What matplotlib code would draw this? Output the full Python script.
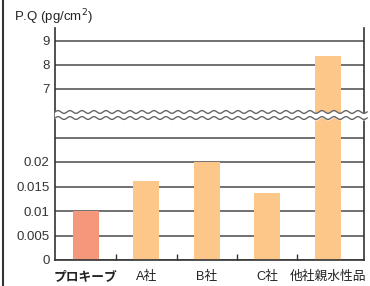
import numpy as np
import matplotlib
matplotlib.use("Agg")
import matplotlib.pyplot as plt
from matplotlib.lines import Line2D

plt.rcParams['font.family'] = ['Liberation Sans', 'Noto Sans CJK JP', 'DejaVu Sans']

categories = ['プロキーブ', 'A社', 'B社', 'C社', '他社親水性品']
values = [0.0100, 0.0161, 0.0200, 0.0137, 8.38]
bar_colors = ['#F5977A', '#FDC78A', '#FDC78A', '#FDC78A', '#FDC78A']
ytick_vals = [0, 0.005, 0.01, 0.015, 0.02, 0.025, 7, 8, 9]
ytick_labels = ['0', '0.005', '0.01', '0.015', '0.02', '', '7', '8', '9']

# piecewise scale for the broken axis
yp = [-1, 0, 0.029, 6, 20]
fp = [-200, 0, 5.8, 6.0, 6.0 + 14 * 0.98]


def fwd(y):
    return np.interp(y, yp, fp)


def inv(f):
    return np.interp(f, fp, yp)


fig = plt.figure(figsize=(3.7, 2.86), dpi=100)
ax = fig.add_axes([55 / 370, 1 - 260 / 286, 309 / 370, 232 / 286])
ax.set_yscale('function', functions=(fwd, inv))

x = np.arange(len(categories))
ax.bar(x, values, width=0.43, color=bar_colors, zorder=2)

ax.set_xlim(-0.51, 4.6)
ax.set_ylim(0, inv(232 / 24.5))

ax.set_yticks(ytick_vals)
ax.set_yticklabels(ytick_labels)
ax.yaxis.grid(True, color='#4a4a4a', linewidth=1.1)
ax.set_axisbelow(True)
ax.tick_params(axis='y', length=0, pad=4, labelsize=9.5, labelcolor='#333333')

ax.set_xticks(x)
ax.set_xticklabels(categories)
ax.set_xticks(x[:-1] + 0.5, minor=True)
ax.tick_params(axis='x', which='major', length=0, pad=8, labelsize=9.2, labelcolor='#222222')
ax.tick_params(axis='x', which='minor', direction='in', length=4, width=1, color='#333333')
ax.get_xticklabels()[0].set_fontweight('bold')

for s in ['left', 'right', 'bottom']:
    ax.spines[s].set_color('#333333')
    ax.spines[s].set_linewidth(1.2)
ax.spines['top'].set_visible(False)

# wavy break marks
t = np.linspace(0, 1.01, 800)
w = 0.006 * np.sin(2 * np.pi * t * 309 / 12)
y1 = 0.638 + w
y2 = 0.612 + w
ax.fill_between(t, y2, y1, color='white', transform=ax.transAxes, zorder=5, clip_on=False)
ax.plot(t, y1, color='#666666', lw=1, transform=ax.transAxes, zorder=6, clip_on=False)
ax.plot(t, y2, color='#666666', lw=1, transform=ax.transAxes, zorder=6, clip_on=False)

fig.text(14 / 370, 1 - 17 / 286, 'P.Q (pg/cm$^{2}$)', fontsize=9.5, color='#222222', va='center')
fig.add_artist(Line2D([2.5 / 370, 2.5 / 370], [0, 1], color='#333333', lw=1.5))

fig.savefig('out.png', dpi=100)
